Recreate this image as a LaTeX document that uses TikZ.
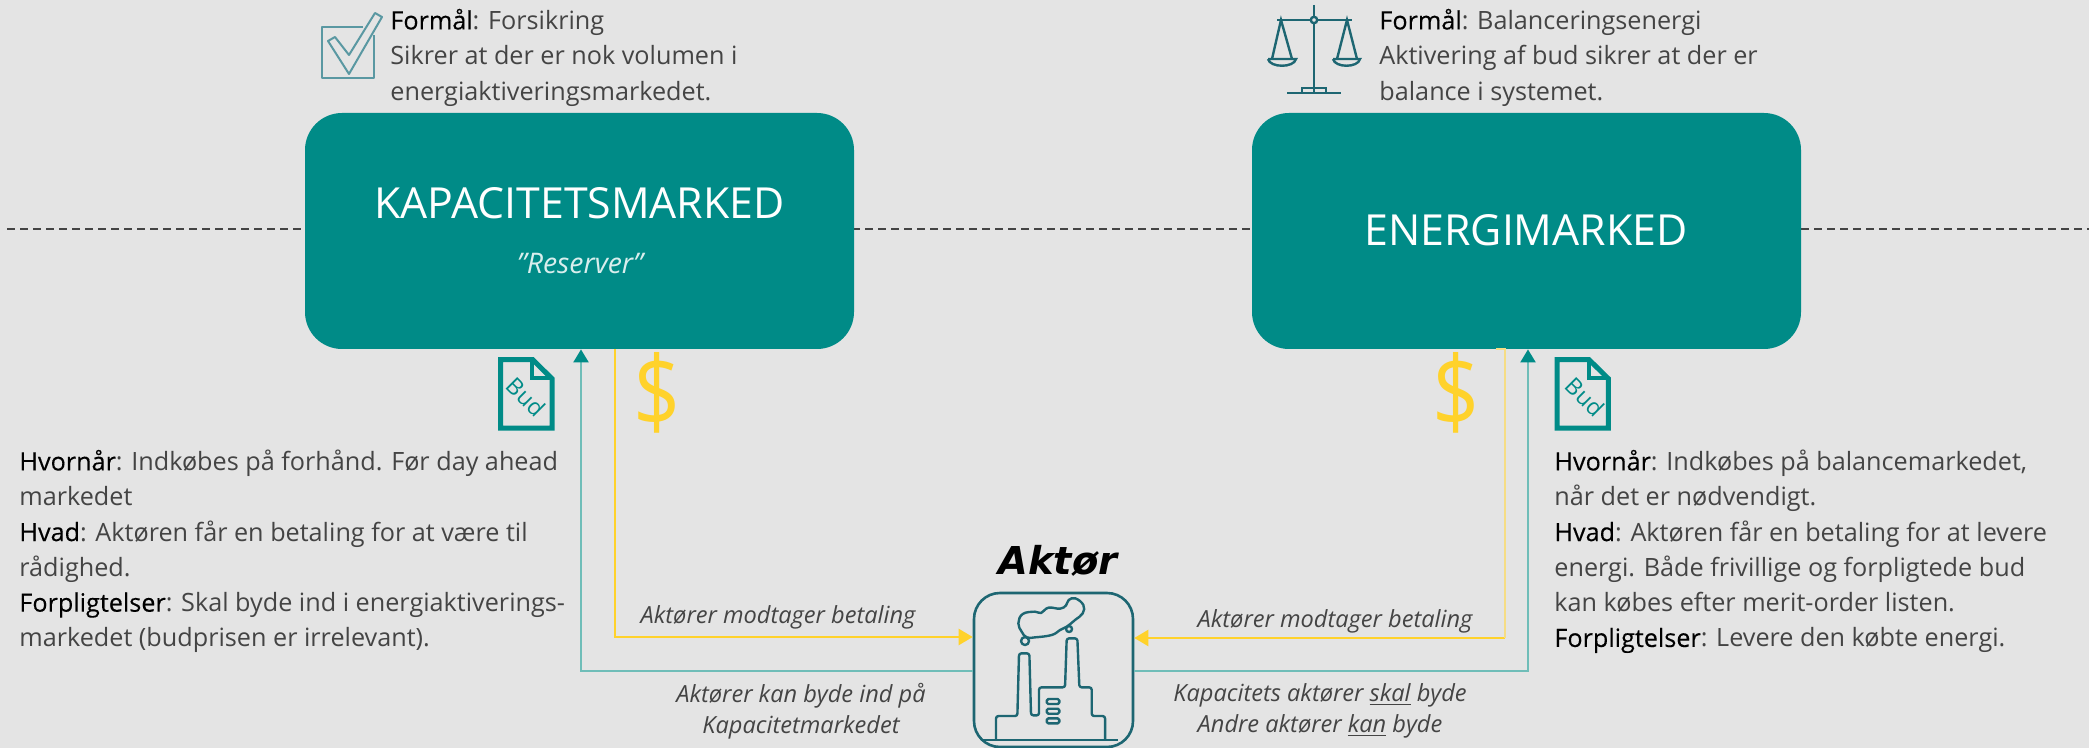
\documentclass[tikz,border=0pt]{standalone}
\usepackage{fontspec}
\setmainfont{Open Sans}
\newfontfamily\hvyfont{Open Sans}[FakeBold=0.25]
\newfontfamily\dvfont{DejaVu Sans}
\usetikzlibrary{arrows.meta}
\definecolor{bgc}{HTML}{E4E4E4}
\definecolor{tealbox}{HTML}{008B87}
\definecolor{teallight}{HTML}{6FBDB8}
\definecolor{goldc}{HTML}{FFD22B}
\definecolor{goldl}{HTML}{F6DD85}
\definecolor{icond}{HTML}{1D6672}
\definecolor{iconl}{HTML}{5A98A2}
\definecolor{txt}{HTML}{444444}
\newcommand{\hd}[1]{{\color{black}\hvyfont #1}}
\tikzset{
  market/.style={fill=tealbox,rounded corners=18.5pt,minimum width=274.5pt,minimum height=118pt,inner sep=0pt,text=white},
  body/.style={anchor=north west,align=left,inner sep=0pt,text=txt,font=\fontsize{12.6}{17.65}\selectfont},
  lab/.style={align=center,inner sep=0pt,text=txt,font=\fontsize{11.8}{15.5}\selectfont\itshape},
  title/.style={inner sep=0pt,text=white,font=\fontsize{21.4}{24}\selectfont},
  tealarrow/.style={draw=teallight,line width=1.1pt,-{Stealth[inset=0pt,color=tealbox,length=6.5pt,width=7.5pt]}},
  goldarrow/.style={draw=goldc,line width=1.1pt,-{Stealth[inset=0pt,length=7pt,width=8pt]}},
  docicon/.style={draw=tealbox,line width=2.5pt,line join=miter},
  budtext/.style={inner sep=0pt,text=tealbox,rotate=-45,font=\fontsize{11.5}{12}\selectfont},
  dollar/.style={inner sep=0pt,text=goldc,font=\fontsize{48}{50}\selectfont},
  ico/.style={draw=icond,line width=1.2pt},
  icolight/.style={draw=iconl,line width=1pt,line join=round}
}
\begin{document}
\begin{tikzpicture}[x=0.5pt,y=-0.5pt]
\useasboundingbox (0,0) rectangle (2089,748);
\fill[bgc] (0,0) rectangle (2089,748);
% dashed axis
\coordinate (dashA) at (7,229);
\coordinate (dashB) at (2089,229);
\draw[draw=txt,line width=0.55pt,dash pattern=on 4pt off 2.5pt] (dashA) -- (dashB);
% markets
\node[market] (kap) at (579.5,231) {};
\node[market] (ene) at (1526.5,231) {};
\node[title] (kapT) at (579.5,203) {KAPACITETSMARKED};
\node[inner sep=0pt,text=white!85!tealbox,font=\fontsize{14.2}{16}\selectfont\itshape] (res) at (580,264) {”Reserver”};
\node[title] (eneT) at (1526,230) {ENERGIMARKED};
% actor
\node[draw=icond,line width=1.3pt,rounded corners=13pt,minimum width=79.5pt,minimum height=77pt,inner sep=0pt] (akt) at (1053.5,670) {};
\node[inner sep=0pt,font=\dvfont\fontsize{19.2}{22}\selectfont\bfseries\itshape,text=black] (aktT) at (1058,561) {Aktør};
% connectors
\coordinate (tL) at (581,671);
\coordinate (tR) at (1528,671);
\coordinate (gL) at (615,637);
\coordinate (gR) at (1505,638);
\draw[tealarrow] (akt.west |- tL) -- (tL) -- (tL |- kap.south);
\draw[tealarrow] (akt.east |- tR) -- (tR) -- (tR |- ene.south);
\draw[goldarrow] (gL |- kap.south) -- (gL) -- (akt.west |- gL);
\draw[goldarrow,draw=goldc] (gR) -- (akt.east |- gR);
\draw[draw=goldl,line width=1.1pt] (gR) -- (gR |- ene.south) -- ++(-9,0);
% factory icon
\begin{scope}[shift={(920,530)},x=0.1667pt,y=-0.1667pt,ico,line join=round]
\draw (185,630) -- (595,630);
\draw[rounded corners=1.2pt] (228,630) -- (228,558) -- (292,558) -- (297,370) -- (328,370) -- (333,556) -- (357,556) -- (357,472) -- (435,472) -- (440,325) -- (472,325) -- (478,472) -- (515,472) -- (515,558) -- (555,558) -- (555,630);
\draw[rounded corners=0.8pt] (380,507) rectangle (418,522);
\draw[rounded corners=0.8pt] (380,536) rectangle (418,551);
\draw[rounded corners=0.8pt] (380,565) rectangle (418,580);
\draw plot[smooth cycle,tension=0.7] coordinates {(295,280) (308,252) (345,245) (363,249) (385,233) (420,236) (438,226) (446,210) (466,205) (490,225) (488,250) (465,270) (440,290) (420,300) (395,315) (345,322) (320,322) (305,305)};
\draw (315,333) circle[radius=2pt];
\draw (447,297) circle[radius=1.5pt];
\end{scope}
% doc icons
\begin{scope}[shift={(480,340)},x=0.1667pt,y=-0.1667pt]
\draw[docicon] (62,59) -- (158,59) -- (216,116) -- (216,264) -- (62,264) -- cycle;
\draw[docicon,line width=2pt] (157,59) -- (157,115) -- (216,115);
\end{scope}
\node[budtext] (budL) at (526,397) {Bud};
\begin{scope}[shift={(1400,340)},x=0.1667pt,y=-0.1667pt]
\draw[docicon] (471,59) -- (567,59) -- (625,116) -- (625,264) -- (471,264) -- cycle;
\draw[docicon,line width=2pt] (566,59) -- (566,115) -- (625,115);
\end{scope}
\node[budtext] (budR) at (1585,397) {Bud};
% dollars
\node[dollar] (dolL) at (657,393) {\scalebox{0.86}[1.03]{\$}};
\node[dollar] (dolR) at (1456,393) {\scalebox{0.86}[1.03]{\$}};
% check icon
\draw[icolight] (363,27) -- (322,27) -- (322,78) -- (374,78) -- (374,35);
\draw[icolight] (328,41) -- (349,74) -- (382,17) -- (375,13) -- (349,55) -- (335,37) -- cycle;
% scales icon
\draw[ico] (1314,5) -- (1314,17) (1314,23) -- (1314,93);
\draw[ico] (1314,20) circle[radius=1.6pt];
\draw[ico] (1277,20) -- (1311,20) (1317,20) -- (1352,20);
\draw[ico] (1272,59) -- (1281,20) -- (1292,59);
\draw[ico] (1337,59) -- (1347,20) -- (1357,59);
\draw[ico] (1268,59) -- (1296,59) .. controls (1294,68) and (1270,68) .. (1268,59);
\draw[ico] (1333,59) -- (1360,59) .. controls (1358,68) and (1335,68) .. (1333,59);
\draw[ico] (1287,93) -- (1341,93);
\draw[ico] (1302,93) -- (1302,88) -- (1326,88) -- (1326,93);
% top texts
\node[body] (topL) at (390,8.5) {\hd{Formål}: Forsikring\\Sikrer at der er nok volumen i\\energiaktiveringsmarkedet.};
\node[body] (topR) at (1379,8.5) {\hd{Formål}: Balanceringsenergi\\Aktivering af bud sikrer at der er\\balance i systemet.};
% side texts
\node[body] (sideL) at (19,449.5) {\hd{Hvornår}: Indkøbes på forhånd. Før day ahead\\markedet\\\hd{Hvad}: Aktøren får en betaling for at være til\\rådighed.\\\hd{Forpligtelser}: Skal byde ind i energiaktiverings-\\markedet (budprisen er irrelevant).};
\node[body] (sideR) at (1554,449.5) {\hd{Hvornår}: Indkøbes på balancemarkedet,\\når det er nødvendigt.\\\hd{Hvad}: Aktøren får en betaling for at levere\\energi. Både frivillige og forpligtede bud\\kan købes efter merit-order listen.\\\hd{Forpligtelser}: Levere den købte energi.};
% connector labels
\node[lab] (l1) at (778,617) {Aktører modtager betaling};
\node[lab] (l2) at (1335,621) {Aktører modtager betaling};
\node[lab] (l3) at (801,711) {Aktører kan byde ind på\\Kapacitetmarkedet};
\node[lab] (l4) at (1320,711) {Kapacitets aktører \underline{skal} byde\\Andre aktører \underline{kan} byde};
\end{tikzpicture}
\end{document}
